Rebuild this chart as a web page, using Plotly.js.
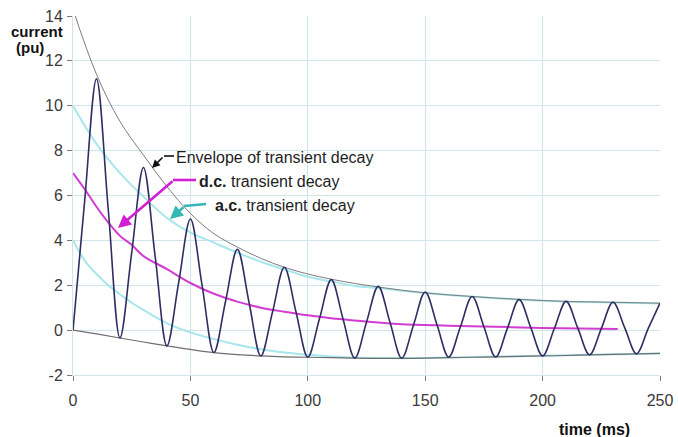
<!DOCTYPE html>
<html>
<head>
<meta charset="utf-8">
<script src="https://cdn.plot.ly/plotly-3.0.1.min.js"></script>
<style>html,body{margin:0;padding:0;background:#fff;}#chart{width:678px;height:437px;}</style>
</head>
<body>
<div id="chart"></div>
<script>
// ---- data ----
var tWave = [0,5,10,15,20,25,30,35,40,45,50,55,60,65,70,75,80,85,90,95,100,105,110,115,120,125,130,135,140,145,150,155,160,165,170,175,180,185,190,195,200,205,210,215,220,225,230,235,240,245,250];
var current = [0,5.8,11.2,5.4,-0.35,3.45,7.25,3.28,-0.7,2.12,4.95,1.98,-1.0,1.3,3.6,1.22,-1.15,0.82,2.8,0.8,-1.2,0.52,2.25,0.5,-1.25,0.35,1.95,0.35,-1.25,0.22,1.7,0.25,-1.2,0.15,1.5,0.15,-1.2,0.08,1.36,0.1,-1.15,0.07,1.28,0.09,-1.1,0.07,1.24,0.1,-1.05,0.08,1.2];

var tEnv = [0,10,20,30,40,50,60,70,80,90,100,110,120,130,140,150,160,170,180,190,200,210,220,230,240,250];
var envUpper = [14.3,11.4,9.3,7.8,6.4,5.2,4.3,3.7,3.2,2.8,2.5,2.27,2.08,1.92,1.78,1.66,1.57,1.5,1.43,1.37,1.32,1.28,1.26,1.24,1.22,1.2];
var envLower = [0,-0.17,-0.35,-0.53,-0.7,-0.86,-1.0,-1.09,-1.15,-1.19,-1.21,-1.23,-1.25,-1.26,-1.26,-1.25,-1.23,-1.21,-1.19,-1.17,-1.15,-1.13,-1.1,-1.08,-1.06,-1.04];
var acUpper = [10.0,8.3,7.0,5.95,5.0,4.35,3.9,3.45,3.05,2.7,2.38,2.17,1.97,1.88,1.76,1.65,1.56,1.49,1.42,1.36,1.31,1.27,1.25,1.23,1.21,1.19];

var tAcLow = [0,5,10,15,20,25,30,40,50,60,70,80,90,100,110,120,130,140,150,160,170,180,190,200,210,220,230,240,250];
var acLower = [4.0,3.1,2.5,2.0,1.6,1.22,0.9,0.3,-0.1,-0.4,-0.65,-0.85,-1.0,-1.1,-1.17,-1.22,-1.24,-1.25,-1.24,-1.22,-1.2,-1.18,-1.16,-1.14,-1.12,-1.1,-1.08,-1.06,-1.04];

var tDc = [0,5,10,15,20,25,30,40,50,60,70,80,90,100,110,120,130,140,160,180,200,232];
var dcDecay = [7.0,6.28,5.5,4.8,4.2,3.8,3.3,2.72,2.1,1.62,1.27,1.0,0.82,0.66,0.53,0.43,0.34,0.26,0.2,0.15,0.1,0.05];

var xTicks = [0,50,100,150,200,250];
var yTicks = [-2,0,2,4,6,8,10,12,14];

// ---- layout helpers (pixel -> axis units for annotation placement) ----
var L = 73, R = 18, T = 16, B = 62, W = 678, H = 437;
var pw = W - L - R, ph = H - T - B;
function X(px){ return (px - L) / pw * 250; }
function Y(py){ return 14 - (py - T) / ph * 16; }

var FONT = "Liberation Sans, Arial, sans-serif";
var gridC = "#cfe5ea";

var traces = [
  {x: tEnv, y: acUpper, mode: "lines", line: {color: "#a6e6ec", width: 2, shape: "spline"}, hoverinfo: "skip"},
  {x: tAcLow, y: acLower, mode: "lines", line: {color: "#a6e6ec", width: 2, shape: "spline"}, hoverinfo: "skip"},
  {x: tEnv, y: envUpper, mode: "lines", line: {color: "#7d7d7d", width: 1, shape: "spline"}, hoverinfo: "skip"},
  {x: tEnv, y: envLower, mode: "lines", line: {color: "#6f6f6f", width: 1.2, shape: "spline"}, hoverinfo: "skip"},
  {x: tDc, y: dcDecay, mode: "lines", line: {color: "#d23cd2", width: 2, shape: "spline"}, hoverinfo: "skip"},
  {x: tWave, y: current, mode: "lines", line: {color: "#302d62", width: 1.6, shape: "spline", smoothing: 1}, hoverinfo: "skip"}
];

var ann = [];
function label(px, py, html, anchor){
  ann.push({xref: "x", yref: "y", x: X(px), y: Y(py), text: html, showarrow: false,
    xanchor: anchor || "left", yanchor: "middle", font: {family: FONT, size: 16, color: "#1e1e1e"}});
}
function arrow(tipPx, tipPy, fromPx, fromPy, color, w){
  ann.push({xref: "x", yref: "y", x: X(tipPx), y: Y(tipPy), text: "", showarrow: true,
    ax: fromPx - tipPx, ay: fromPy - tipPy, arrowhead: 2, arrowsize: 1, arrowwidth: w, arrowcolor: color, standoff: 0, startstandoff: 0});
}
label(174, 157, "Envelope of transient decay");
label(197, 181, "<b>d.c.</b> transient decay");
label(213, 205, "<b>a.c.</b> transient decay");
arrow(152, 168, 164, 156, "#111111", 1.6);
arrow(118, 228, 174, 180, "#d21fd2", 2.6);
arrow(170, 219, 185, 206, "#33b7b7", 2.6);

// axis label annotations (paper coords)
ann.push({xref: "paper", yref: "paper", x: (37 - L) / pw, y: (H - B - 31) / ph, text: "<b>current</b>", showarrow: false,
  xanchor: "center", yanchor: "middle", font: {family: FONT, size: 15, color: "#111"}});
ann.push({xref: "paper", yref: "paper", x: (30 - L) / pw, y: (H - B - 47.5) / ph, text: "<b>(pu)</b>", showarrow: false,
  xanchor: "center", yanchor: "middle", font: {family: FONT, size: 15, color: "#111"}});
ann.push({xref: "paper", yref: "paper", x: (594 - L) / pw, y: (H - B - 430) / ph, text: "<b>time (ms)</b>", showarrow: false,
  xanchor: "center", yanchor: "middle", font: {family: FONT, size: 16, color: "#111"}});

var shapes = [
  {type: "line", xref: "x", yref: "y", x0: X(164), y0: Y(156), x1: X(174), y1: Y(156), line: {color: "#111111", width: 1.6}},
  {type: "line", xref: "x", yref: "y", x0: X(173), y0: Y(180), x1: X(196), y1: Y(180), line: {color: "#d21fd2", width: 2.6}},
  {type: "line", xref: "x", yref: "y", x0: X(184), y0: Y(206), x1: X(206), y1: Y(204), line: {color: "#33b7b7", width: 2.6}}
];

var axisCommon = {
  showgrid: true, gridcolor: gridC, gridwidth: 1,
  showline: true, linecolor: gridC, linewidth: 1,
  zeroline: false, ticks: "outside", ticklen: 5, tickwidth: 1, tickcolor: "#7a7a7a",
  tickfont: {family: FONT, size: 16, color: "#3a3a3a"}, fixedrange: true
};

var layout = {
  width: W, height: H,
  margin: {l: L, r: R, t: T, b: B, pad: 0},
  paper_bgcolor: "#fff", plot_bgcolor: "#fff",
  showlegend: false,
  font: {family: FONT, size: 16, color: "#333"},
  xaxis: Object.assign({}, axisCommon, {range: [0, 250], tickmode: "array", tickvals: xTicks, ticktext: xTicks.map(String), ticklabelstandoff: 6, mirror: false}),
  yaxis: Object.assign({}, axisCommon, {range: [-2, 14], tickmode: "array", tickvals: yTicks, ticktext: yTicks.map(String), ticklabelstandoff: 1}),
  annotations: ann,
  shapes: shapes
};

Plotly.newPlot("chart", traces, layout, {staticPlot: true, displayModeBar: false});
</script>
</body>
</html>
